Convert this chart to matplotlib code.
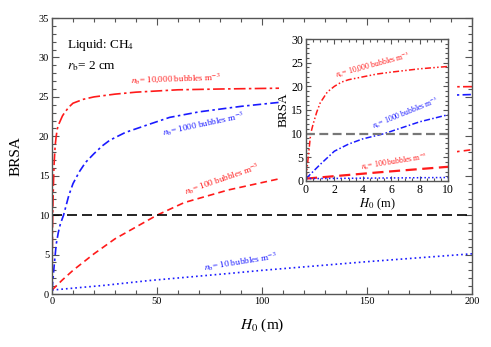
import matplotlib
matplotlib.use("Agg")
import matplotlib.pyplot as plt
from matplotlib.patches import Rectangle
from matplotlib.ticker import MultipleLocator

plt.rcParams["font.family"] = ["Liberation Serif", "DejaVu Serif"]
plt.rcParams["mathtext.fontset"] = "stix"

# bubble densities (bubbles m^-3) and the BRSA curves
# n_b = 10,000
h_10000 = [0, 0.33, 0.5, 0.75, 1, 1.5, 2, 2.5, 3, 4, 5, 6, 8, 10, 15, 20, 30, 40, 60, 80, 108, 150, 200]
brsa_10000 = [0.5, 10, 12, 14.5, 16.5, 18.8, 20.0, 20.9, 21.4, 22.0, 22.6, 23.0, 23.7, 24.2, 24.7,
              25.0, 25.35, 25.6, 25.9, 26.0, 26.1, 26.2, 26.3]
# n_b = 1000
h_1000 = [0, 1, 2, 3, 4, 5.5, 6, 8, 10, 13, 16, 20, 24, 27.5, 35, 46, 56, 70, 90, 108, 150, 200]
brsa_1000 = [0.5, 3.5, 6.3, 7.8, 8.9, 10, 10.5, 12.5, 14.0, 15.5, 16.7, 17.8, 18.8, 19.5, 20.5,
             21.5, 22.4, 23.1, 23.8, 24.3, 24.9, 25.3]
# n_b = 100
h_100 = [0, 5, 10, 20, 30, 40, 50, 63, 84, 108, 150, 200]
brsa_100 = [0.5, 1.8, 3.0, 5.1, 7.0, 8.5, 10.0, 11.6, 13.2, 14.6, 16.6, 18.3]
# n_b = 10
h_10 = [0, 10, 25, 46, 84, 100, 150, 200]
brsa_10 = [0.5, 0.74, 1.1, 1.7, 2.6, 3.0, 4.1, 5.1]

threshold = 10

RED = "#ff1a1a"
BLUE = "#1a1aff"


def style_ticks(ax, xmaj, xmin, ymaj, ymin):
    ax.xaxis.set_major_locator(MultipleLocator(xmaj))
    ax.xaxis.set_minor_locator(MultipleLocator(xmin))
    ax.yaxis.set_major_locator(MultipleLocator(ymaj))
    ax.yaxis.set_minor_locator(MultipleLocator(ymin))
    ax.tick_params(which="both", direction="in", top=True, right=True,
                   labelsize=7.5, pad=2, color="#555555", width=0.8)
    ax.tick_params(which="major", length=5)
    ax.tick_params(which="minor", length=3)
    for s in ax.spines.values():
        s.set_color("#555555")
        s.set_linewidth(1.0)


fig = plt.figure(figsize=(4.91, 3.47), dpi=100)

# main panel
ax = fig.add_axes([0.1059, 0.1527, 0.8554, 0.7953])
ax.plot(h_10000, brsa_10000, color=RED, lw=1.2, ls=(0, (7, 2, 1.5, 2)))
ax.plot(h_1000, brsa_1000, color=BLUE, lw=1.2, ls=(0, (5, 2, 1.5, 2)))
ax.plot(h_100, brsa_100, color=RED, lw=1.2, ls=(0, (4, 2.5)))
ax.plot(h_10, brsa_10, color=BLUE, lw=1.2, ls=(0, (1, 1.8)))
ax.axhline(threshold, color="black", lw=1.2, ls=(0, (6, 3)))
ax.set_xlim(0, 200)
ax.set_ylim(0, 35)
style_ticks(ax, 50, 10, 5, 1)
ax.set_xlabel("$H_0$ (m)", fontsize=11, labelpad=8)
ax.set_ylabel("BRSA", fontsize=11, labelpad=12)

ax.text(0.035, 0.93, "Liquid: CH$_4$", transform=ax.transAxes, fontsize=9.5,
        va="top")
ax.text(0.035, 0.85, "$r_\\mathrm{b}$= 2 cm", transform=ax.transAxes,
        fontsize=9.5, va="top")

ax.text(59, 27.3, "$n_\\mathrm{b}$= 10,000 bubbles m$^{-3}$", color=RED,
        fontsize=6.6, rotation=2, ha="center", va="center")
ax.text(72, 21.6, "$n_\\mathrm{b}$= 1000 bubbles m$^{-3}$", color=BLUE,
        fontsize=6.6, rotation=12, ha="center", va="center")
ax.text(81, 14.6, "$n_\\mathrm{b}$= 100 bubbles m$^{-3}$", color=RED,
        fontsize=6.6, rotation=19, ha="center", va="center")
ax.text(90, 4.1, "$n_\\mathrm{b}$= 10 bubbles m$^{-3}$", color=BLUE,
        fontsize=6.6, rotation=9, ha="center", va="center")

# white block behind the inset, hiding the main curves there
ax.add_patch(Rectangle((0.568, 0.409), 0.3625, 0.505, transform=fig.transFigure,
                       facecolor="white", edgecolor="none", zorder=3,
                       clip_on=False))

# inset: zoom on the first 10 m
ins = fig.add_axes([0.6232, 0.4784, 0.2892, 0.4092])
ins.plot(h_10000, brsa_10000, color=RED, lw=1.1, ls=(0, (4, 1.5, 1, 1.5, 1, 1.5)))
ins.plot(h_1000, brsa_1000, color=BLUE, lw=1.1, ls=(0, (4, 1.5, 1, 1.5)))
ins.plot(h_100, brsa_100, color=RED, lw=1.6, ls=(0, (5, 2.5)))
ins.plot(h_10, brsa_10, color=BLUE, lw=1.1, ls=(0, (1, 1.5)))
ins.axhline(threshold, color="#777777", lw=1.6, ls=(0, (4, 2)))
ins.set_xlim(0, 10)
ins.set_ylim(0, 30)
style_ticks(ins, 2, 0.5, 5, 1)
ins.tick_params(which="major", length=3.5)
ins.tick_params(which="minor", length=2)
ins.tick_params(labelsize=8.5)
ins.tick_params(axis="x", pad=2.5)
ins.tick_params(axis="y", pad=2)
ins.set_xlabel("$H_0$ (m)", fontsize=9, labelpad=0)
ins.set_ylabel("BRSA", fontsize=9.5, labelpad=1)

ins.text(4.7, 24.6, "$n_\\mathrm{b}$= 10,000 bubbles m$^{-3}$", color=RED,
         fontsize=5.6, rotation=15, ha="center", va="center")
ins.text(7.0, 14.3, "$n_\\mathrm{b}$= 1000 bubbles m$^{-3}$", color=BLUE,
         fontsize=5.6, rotation=22, ha="center", va="center")
ins.text(6.2, 4.1, "$n_\\mathrm{b}$= 100 bubbles m$^{-3}$", color=RED,
         fontsize=5.6, rotation=9, ha="center", va="center")

fig.savefig("out.png", dpi=100)
